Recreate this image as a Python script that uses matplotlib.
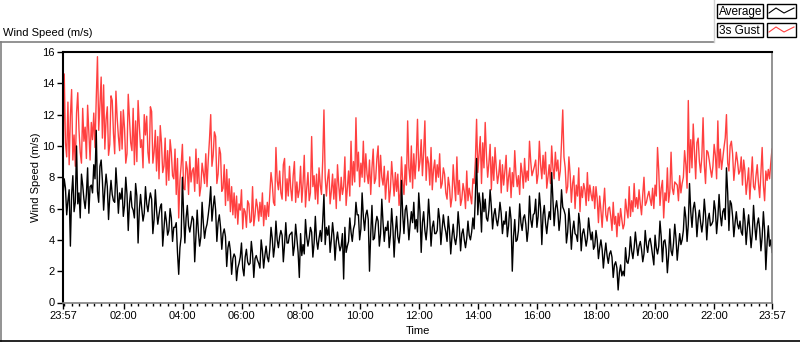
import numpy as np
import matplotlib
matplotlib.use("Agg")
import matplotlib.pyplot as plt
from matplotlib.patches import Rectangle
from matplotlib.lines import Line2D

plt.rcParams['font.family'] = ['Liberation Sans', 'DejaVu Sans']

# 2.5-minute samples starting at 23:57 (minutes from midnight, -3 .. 1437)
# one row per hour
gust = [
    9.0, 14.6, 10.2, 9.3, 12.8, 8.8, 11.9, 13.6, 9.1, 10.7, 8.7, 12.1, 13.4, 11.0, 9.6, 8.9, 12.4, 10.3, 11.2, 9.2, 12.6, 10.8, 9.1, 11.5,
    10.4, 12.1, 9.9, 13.0, 15.7, 11.0, 12.6, 14.4, 10.5, 13.9, 9.8, 11.7, 12.5, 9.4, 10.1, 13.2, 12.9, 10.8, 9.5, 13.5, 11.8, 10.6, 9.7, 12.2,
    9.8, 12.3, 11.1, 8.9, 9.5, 13.3, 11.8, 10.2, 9.7, 12.4, 8.8, 11.6, 9.0, 12.9, 11.3, 9.9, 10.4, 8.6, 12.0, 10.7, 11.9, 9.6, 8.9, 12.5,
    12.2, 8.9, 9.6, 11.0, 8.4, 10.6, 7.9, 11.3, 10.2, 8.3, 8.7, 10.5, 7.5, 9.7, 7.8, 10.4, 9.6, 8.1, 7.9, 9.8, 6.9, 9.2, 5.4, 7.8,
    8.8, 10.1, 7.3, 7.2, 9.0, 8.5, 6.9, 9.3, 7.7, 8.4, 8.6, 7.1, 9.8, 7.6, 9.2, 6.8, 7.4, 8.9, 8.3, 7.6, 9.5, 7.4, 9.1, 10.4,
    12.0, 8.7, 9.4, 10.9, 10.6, 7.6, 8.2, 9.9, 9.5, 7.1, 7.3, 8.8, 6.2, 8.5, 6.5, 7.9, 5.8, 7.4, 5.6, 7.0, 5.4, 6.8, 5.0, 6.3,
    5.9, 7.2, 4.7, 6.0, 5.8, 4.8, 6.5, 6.3, 5.1, 5.2, 7.4, 4.9, 5.6, 6.6, 6.1, 5.2, 6.4, 5.5, 7.0, 4.9, 6.2, 5.3, 6.4, 5.5,
    6.9, 8.3, 7.6, 6.4, 6.2, 9.9, 7.8, 7.2, 8.4, 7.0, 6.6, 8.8, 9.2, 6.5, 7.9, 6.8, 8.7, 7.3, 6.5, 8.1, 9.0, 6.4, 7.7, 6.7,
    7.2, 8.7, 6.4, 7.6, 9.4, 6.1, 7.3, 8.3, 6.5, 7.0, 10.6, 7.4, 8.1, 6.6, 8.2, 6.3, 8.6, 7.5, 6.9, 9.1, 12.3, 8.0, 6.8, 7.9,
    8.5, 6.3, 7.1, 8.2, 6.6, 7.9, 6.0, 8.8, 7.5, 6.5, 8.0, 6.9, 7.4, 9.3, 6.2, 7.3, 8.4, 6.8, 10.3, 7.5, 9.0, 7.7, 11.8, 8.4,
    9.6, 7.4, 8.9, 8.0, 10.3, 7.7, 9.5, 8.2, 7.6, 9.1, 6.9, 8.6, 9.8, 7.6, 7.9, 9.2, 10.0, 7.4, 9.4, 8.0, 7.5, 8.7, 6.6, 7.8,
    8.4, 6.4, 7.2, 9.0, 7.9, 6.8, 8.3, 7.1, 8.2, 6.2, 7.0, 9.3, 7.6, 6.9, 8.8, 7.5, 11.6, 8.6, 7.7, 10.0, 7.3, 9.5, 7.9, 9.2,
    11.7, 8.4, 9.0, 10.4, 8.1, 9.6, 11.6, 7.8, 9.3, 8.9, 7.5, 9.9, 7.2, 8.5, 9.1, 7.7, 8.8, 8.0, 9.5, 7.3, 7.6, 8.6, 8.2, 7.0,
    6.6, 8.0, 7.4, 6.1, 6.7, 8.8, 7.5, 6.5, 9.3, 6.9, 7.8, 6.2, 6.6, 7.6, 7.1, 6.0, 8.4, 6.5, 7.3, 6.8, 6.3, 7.9, 7.6, 9.0,
    11.7, 8.3, 9.5, 10.6, 7.6, 10.2, 8.6, 11.5, 9.4, 8.0, 8.9, 10.1, 7.2, 9.3, 7.8, 9.9, 8.6, 7.6, 8.2, 9.1, 7.0, 8.8, 7.5, 8.4,
    9.4, 7.1, 8.0, 8.6, 6.7, 8.3, 7.4, 9.7, 8.2, 7.4, 8.1, 6.9, 8.9, 8.3, 7.3, 9.2, 7.7, 8.4, 7.8, 10.3, 9.0, 8.1, 8.4, 8.7,
    9.1, 7.6, 8.2, 10.3, 8.8, 7.9, 9.4, 8.2, 9.6, 7.3, 8.0, 8.8, 7.6, 10.0, 8.6, 7.9, 9.6, 8.4, 9.1, 7.8, 8.4, 10.2, 12.3, 9.3,
    8.6, 7.0, 7.4, 9.3, 8.2, 6.4, 7.6, 8.1, 6.0, 7.5, 6.8, 8.6, 5.8, 7.4, 6.7, 7.6, 7.2, 6.2, 8.3, 6.5, 7.5, 6.9, 6.5, 7.4,
    6.0, 7.4, 6.6, 5.1, 6.8, 5.9, 4.8, 6.2, 7.3, 5.6, 5.2, 6.0, 6.1, 5.5, 4.6, 6.4, 5.0, 5.5, 4.2, 5.7, 4.9, 6.0, 5.3, 4.7,
    5.0, 6.6, 5.9, 5.4, 7.4, 5.5, 6.5, 5.8, 7.6, 6.1, 6.7, 6.0, 7.2, 6.3, 5.6, 6.9, 8.0, 6.2, 6.4, 6.8, 7.1, 6.6, 6.2, 7.3,
    6.0, 7.5, 6.8, 9.9, 8.4, 6.2, 7.3, 7.8, 5.4, 7.0, 6.5, 8.6, 6.4, 7.1, 9.6, 7.3, 6.9, 7.7, 7.6, 7.5, 6.5, 8.1, 7.0, 7.6,
    8.0, 9.7, 8.8, 7.3, 12.9, 8.3, 10.4, 8.6, 11.4, 9.6, 7.9, 10.2, 10.5, 9.0, 8.3, 9.3, 11.8, 8.8, 7.6, 9.7, 9.6, 9.1, 8.5, 8.0,
    8.7, 10.1, 9.4, 7.9, 11.6, 8.6, 9.8, 8.5, 9.2, 9.9, 10.5, 12.0, 8.9, 8.4, 10.0, 10.3, 9.5, 7.8, 8.7, 9.6, 9.0, 8.2, 8.4, 9.3,
    7.5, 9.1, 8.4, 6.9, 7.7, 8.6, 6.6, 8.0, 9.3, 7.4, 7.2, 8.1, 8.8, 7.6, 6.7, 8.3, 9.9, 7.5, 6.5, 8.4, 7.8, 8.5, 7.9, 8.9,
    9.8,
]

average = [
    6.8, 7.9, 7.3, 5.6, 6.5, 7.2, 3.6, 6.9, 8.1, 5.8, 6.4, 10.0, 6.3, 7.0, 5.4, 8.2, 7.5, 6.6, 6.0, 6.9, 8.6, 5.7, 7.4, 7.5,
    7.0, 8.8, 7.9, 11.0, 7.1, 6.4, 8.7, 9.1, 7.8, 5.9, 7.2, 8.2, 7.4, 5.3, 6.8, 7.8, 6.9, 6.5, 6.4, 8.6, 7.3, 5.7, 7.0, 6.6,
    7.3, 5.5, 6.2, 8.0, 6.9, 4.6, 6.3, 7.1, 6.1, 5.9, 5.4, 7.6, 6.8, 3.8, 5.9, 6.9, 6.0, 5.2, 5.7, 7.4, 6.3, 5.8, 6.5, 7.0,
    6.6, 4.4, 5.3, 7.2, 5.9, 5.0, 5.6, 6.1, 6.3, 3.6, 4.7, 5.8, 5.2, 4.3, 4.6, 6.0, 5.4, 3.9, 4.8, 4.8, 5.1, 3.2, 1.8, 3.5,
    4.2, 8.0, 5.6, 3.8, 5.4, 6.2, 4.9, 4.5, 5.0, 5.5, 5.3, 2.6, 4.3, 5.9, 4.5, 3.6, 4.2, 6.4, 5.1, 4.1, 4.7, 5.0, 5.6, 6.3,
    7.4, 5.2, 6.1, 6.8, 5.9, 3.9, 5.1, 5.6, 4.8, 3.4, 4.4, 4.7, 4.2, 2.3, 3.5, 3.9, 3.3, 1.8, 2.8, 3.1, 2.9, 1.4, 2.2, 2.5,
    2.9, 3.8, 2.2, 1.7, 2.9, 3.4, 2.6, 2.4, 2.5, 3.9, 3.1, 1.6, 2.8, 3.0, 2.7, 2.5, 2.2, 4.0, 3.3, 2.2, 3.0, 3.6, 2.9, 2.6,
    3.4, 4.8, 4.1, 2.9, 3.6, 5.2, 4.0, 3.5, 4.2, 4.6, 4.3, 2.6, 3.7, 5.1, 3.8, 3.8, 4.3, 4.4, 4.5, 3.0, 3.6, 5.0, 4.1, 3.2,
    1.6, 4.4, 3.0, 3.7, 3.1, 5.3, 4.2, 3.6, 4.1, 4.8, 4.5, 2.9, 3.8, 5.5, 4.0, 3.4, 4.1, 4.6, 3.9, 5.2, 6.9, 3.7, 4.8, 4.3,
    4.9, 3.2, 4.0, 5.1, 4.3, 2.7, 3.9, 4.5, 3.8, 3.3, 3.6, 4.4, 1.5, 4.8, 3.2, 3.6, 3.9, 5.4, 4.5, 3.9, 4.7, 5.0, 6.4, 5.6,
    5.6, 4.0, 4.7, 7.0, 5.5, 4.6, 5.6, 5.9, 5.3, 2.0, 4.4, 6.2, 4.0, 4.1, 5.0, 5.5, 5.2, 3.6, 4.4, 6.6, 5.1, 3.9, 4.8, 4.6,
    5.2, 3.5, 4.3, 6.0, 4.8, 2.9, 4.5, 5.5, 4.2, 3.8, 4.6, 7.8, 5.6, 4.4, 5.9, 6.2, 5.3, 4.0, 5.0, 5.8, 5.1, 6.4, 4.7, 5.3,
    4.5, 7.0, 5.8, 3.2, 5.1, 5.8, 4.6, 4.0, 4.9, 6.6, 5.3, 3.6, 4.8, 5.2, 4.4, 4.4, 4.6, 6.0, 5.3, 3.7, 4.7, 5.6, 4.9, 4.5,
    3.9, 5.5, 4.6, 3.1, 4.2, 5.0, 4.1, 3.7, 4.3, 5.8, 4.8, 3.3, 4.4, 4.7, 4.0, 3.5, 4.1, 5.2, 4.3, 4.0, 4.5, 5.4, 4.7, 6.8,
    9.2, 5.6, 7.0, 6.3, 4.5, 7.0, 5.8, 6.6, 5.4, 5.2, 5.9, 7.2, 6.1, 4.7, 5.6, 6.0, 5.3, 4.9, 5.5, 6.4, 5.7, 4.4, 5.2, 5.0,
    5.8, 4.2, 4.9, 6.1, 5.3, 2.0, 4.2, 5.3, 3.9, 4.0, 4.6, 6.3, 5.1, 4.6, 5.4, 5.6, 5.0, 3.9, 4.7, 6.8, 5.3, 4.8, 5.6, 5.7,
    6.6, 4.8, 5.5, 7.0, 6.0, 3.7, 5.6, 6.2, 5.1, 4.4, 5.2, 5.8, 5.3, 8.3, 6.6, 4.9, 6.0, 6.5, 5.8, 4.6, 5.4, 7.2, 6.1, 5.9,
    5.6, 3.8, 4.5, 6.0, 5.0, 3.4, 4.6, 5.2, 4.4, 4.3, 3.9, 5.7, 5.0, 3.3, 4.4, 4.7, 4.2, 3.6, 4.1, 5.4, 4.6, 4.0, 4.5, 3.4,
    3.6, 4.6, 4.0, 2.8, 3.5, 4.0, 3.4, 2.2, 3.1, 3.8, 3.0, 2.5, 3.1, 3.3, 2.9, 1.6, 2.4, 2.6, 2.2, 0.8, 1.9, 2.4, 1.7, 2.0,
    1.7, 3.5, 2.6, 2.5, 3.0, 4.2, 3.3, 2.8, 3.5, 4.5, 3.7, 3.0, 3.6, 3.9, 3.4, 2.6, 3.1, 4.6, 3.7, 3.2, 3.9, 4.1, 3.6, 3.0,
    2.4, 4.3, 3.5, 3.1, 3.6, 5.2, 4.2, 2.6, 3.9, 4.0, 3.4, 1.9, 3.0, 4.7, 3.3, 3.0, 3.8, 5.0, 4.1, 2.7, 3.6, 4.4, 3.7, 4.0,
    4.6, 6.1, 5.4, 3.9, 5.0, 7.6, 5.8, 4.8, 6.0, 6.4, 5.7, 4.2, 5.3, 5.9, 5.1, 4.5, 5.2, 6.6, 5.6, 4.0, 5.3, 5.7, 4.9, 5.0,
    5.2, 6.5, 5.9, 4.4, 5.4, 6.9, 5.6, 4.9, 5.8, 6.0, 5.3, 8.6, 7.0, 4.6, 6.5, 6.3, 5.5, 4.2, 5.1, 5.8, 5.0, 4.7, 5.2, 4.5,
    4.3, 6.0, 5.2, 3.7, 4.8, 5.6, 4.6, 3.5, 4.4, 6.2, 4.9, 4.0, 5.0, 5.4, 4.7, 3.3, 4.2, 5.8, 4.6, 2.1, 3.8, 4.9, 3.6, 4.0,
    3.2,
]

minutes = np.arange(len(gust)) * 2.5 - 3

tick_pos = [-3, 120, 240, 360, 480, 600, 720, 840, 960, 1080, 1200, 1320, 1437]
tick_labels = ["23:57", "02:00", "04:00", "06:00", "08:00", "10:00", "12:00",
               "14:00", "16:00", "18:00", "20:00", "22:00", "23:57"]

W, H = 800, 342
fig = plt.figure(figsize=(W / 100, H / 100), dpi=100)

def fx(px):
    return px / W

def fy(py):
    return 1 - py / H

# outer panel frame
fig.add_artist(Line2D([0, fx(714)], [fy(42), fy(42)], color='#808080', lw=1.2))
fig.add_artist(Line2D([fx(0.5), fx(0.5)], [fy(42), fy(341)], color='#808080', lw=1.2))
fig.add_artist(Line2D([0, 1], [fy(341), fy(341)], color='black', lw=1.2))
fig.add_artist(Line2D([fx(714), fx(714)], [fy(0), fy(42)], color='#d0d0d0', lw=1))

fig.text(fx(3), fy(33), "Wind Speed (m/s)", fontsize=8, va='center', ha='left')

# legend panel
for row, (name, col) in enumerate([("Average", 'black'), ("3s Gust", '#ff4040')]):
    top = 4 + row * 19
    fig.add_artist(Rectangle((fx(717), fy(top + 14)), fx(46), 14 / H,
                             fill=False, ec='black', lw=1))
    fig.text(fx(719), fy(top + 7.5), name, fontsize=8.5, va='center', ha='left')
    fig.add_artist(Rectangle((fx(767), fy(top + 14)), fx(29), 14 / H,
                             fill=False, ec='black', lw=1))
    fig.add_artist(Line2D([fx(769), fx(776), fx(784), fx(788), fx(794)],
                          [fy(top + 9), fy(top + 4), fy(top + 9), fy(top + 7), fy(top + 4)],
                          color=col, lw=0.8))

ax = fig.add_axes([fx(63), fy(302.5), fx(772 - 63), (302.5 - 52) / H])
ax.plot(minutes, gust, color='#ff4040', lw=1.0)
ax.plot(minutes, average, color='black', lw=1.0)

ax.set_xlim(-3, 1437)
ax.set_ylim(0, 16)
ax.set_yticks(range(0, 17, 2))
ax.set_xticks(tick_pos)
ax.set_xticklabels(tick_labels)
minor = [m for m in range(0, 1440, 15) if m not in tick_pos]
ax.set_xticks(minor, minor=True)
ax.tick_params(axis='both', which='major', direction='out', length=4, width=1,
               labelsize=8, pad=2)
ax.tick_params(axis='x', which='minor', direction='out', length=2.5, width=1)

for s in ['top', 'left']:
    ax.spines[s].set_color('black')
    ax.spines[s].set_linewidth(1.5)
for s in ['bottom', 'right']:
    ax.spines[s].set_color('#808080')
    ax.spines[s].set_linewidth(1.2)

ax.set_ylabel("Wind Speed (m/s)", fontsize=8, labelpad=1)
ax.set_xlabel("Time", fontsize=8, labelpad=4)

fig.savefig("out.png", dpi=100)
